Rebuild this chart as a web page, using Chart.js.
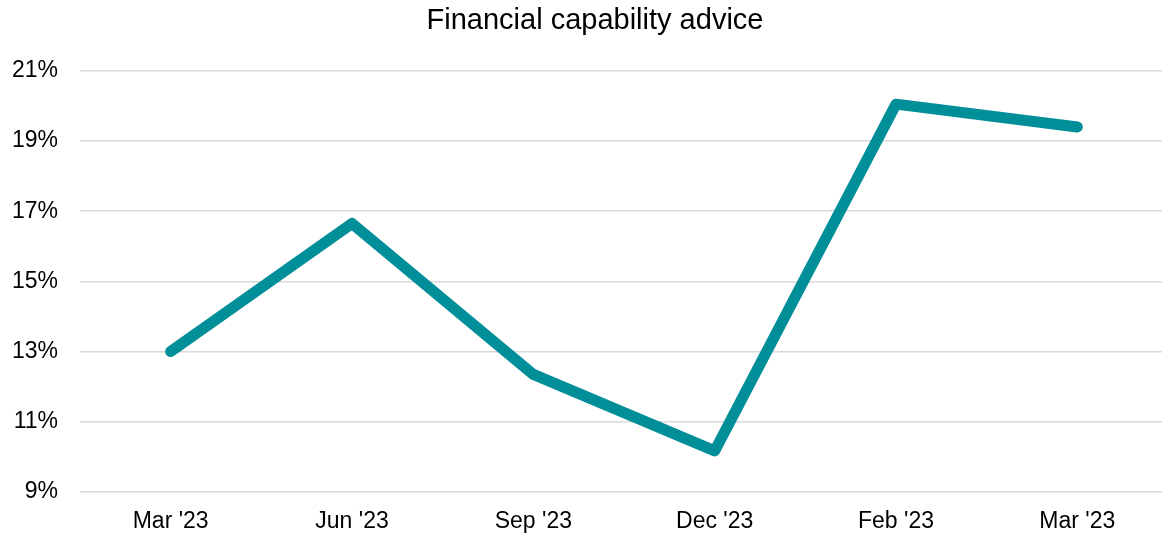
<!DOCTYPE html>
<html>
<head>
<meta charset="utf-8">
<script src="https://cdn.jsdelivr.net/npm/chart.js@4"></script>
<style>
  html, body { margin: 0; padding: 0; background: #fff; overflow: hidden; }
  #wrap { width: 1190px; height: 533px; }
</style>
</head>
<body>
<div id="wrap"><canvas id="adviceChart" width="1190" height="533"></canvas></div>
<script>
// Chart data
const categories = ["Mar '23", "Jun '23", "Sep '23", "Dec '23", "Feb '23", "Mar '23"];
const adviceShare = [13.0, 16.65, 12.35, 10.17, 20.05, 19.4];
const yMin = 9;
const yMax = 21;
const yStep = 2;

const fontFamily = '"Liberation Sans", Arial, sans-serif';

function initChart() {
    const ctx = document.getElementById('adviceChart').getContext('2d');
    new Chart(ctx, {
        type: 'line',
        data: {
            labels: categories,
            datasets: [{
                label: 'Financial capability advice',
                data: adviceShare,
                borderColor: '#008e98',
                borderWidth: 11,
                borderCapStyle: 'round',
                borderJoinStyle: 'round',
                pointRadius: 0,
                tension: 0,
                fill: false
            }]
        },
        options: {
            responsive: false,
            animation: false,
            layout: { padding: 0 },
            plugins: {
                legend: { display: false },
                tooltip: { enabled: false },
                title: {
                    display: true,
                    text: 'Financial capability advice',
                    color: '#000',
                    font: { family: fontFamily, size: 29, weight: 'normal' },
                    padding: { top: 4, bottom: 32 }
                }
            },
            scales: {
                x: {
                    offset: true,
                    grid: { display: false, drawTicks: false },
                    border: { display: false },
                    ticks: {
                        color: '#000',
                        font: { family: fontFamily, size: 23 },
                        padding: 16,
                        maxRotation: 0
                    },
                    afterFit: (scale) => { scale.height = 41; }
                },
                y: {
                    min: yMin,
                    max: yMax,
                    border: { display: false },
                    grid: { color: '#d9d9d9', lineWidth: 1.5, drawTicks: false },
                    ticks: {
                        stepSize: yStep,
                        color: '#000',
                        font: { family: fontFamily, size: 23 },
                        padding: 22,
                        callback: (value) => value + '%'
                    },
                    afterFit: (scale) => { scale.width = 80; }
                },
                // empty strip on the right so the plot ends past the window edge
                yRight: {
                    position: 'right',
                    display: true,
                    grid: { display: false, drawTicks: false },
                    border: { display: false },
                    ticks: { display: false },
                    afterFit: (scale) => { scale.width = 22; }
                }
            }
        }
    });
}

document.addEventListener('DOMContentLoaded', initChart);
</script>
</body>
</html>
